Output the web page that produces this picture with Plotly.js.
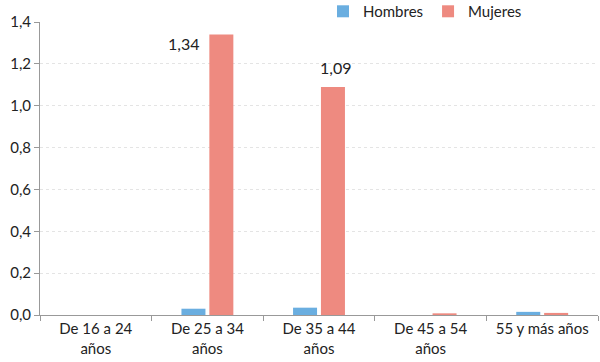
<!DOCTYPE html>
<html><head><meta charset="utf-8">
<script src="https://cdn.plot.ly/plotly-3.0.1.min.js"></script>
<style>body{margin:0;background:#fff}#c{width:600px;height:362px}</style>
</head><body><div id="c"></div>
<script>
const categories = ["De 16 a 24<br>años", "De 25 a 34<br>años", "De 35 a 44<br>años", "De 45 a 54<br>años", "55 y más años"];
const hombres = [0, 0.03, 0.035, 0, 0.015];
const mujeres = [0, 1.34, 1.09, 0.008, 0.01];
const labelsShown = [{idx: 1, text: "1,34", side: "left"}, {idx: 2, text: "1,09", side: "top"}];

const font = "Lato, 'Open Sans', sans-serif";
const traces = [
  {type: "bar", name: "Hombres", x: categories, y: hombres, marker: {color: "#6aaee0"}},
  {type: "bar", name: "Mujeres", x: categories, y: mujeres, marker: {color: "#ee8a80"}}
];
const annotations = labelsShown.map(l => ({
  x: categories[l.idx], y: mujeres[l.idx], xref: "x", yref: "y",
  text: l.text, showarrow: false,
  xshift: l.side === "left" ? -6 : 16,
  yshift: l.side === "left" ? -20 : 8,
  xanchor: l.side === "left" ? "right" : "center",
  yanchor: "bottom",
  font: {family: font, size: 16, color: "#222"}
}));
const layout = {
  width: 600, height: 362,
  margin: {l: 40, r: 2, t: 22, b: 47, autoexpand: false},
  paper_bgcolor: "#fff", plot_bgcolor: "#fff",
  font: {family: font, size: 15, color: "#222"},
  separators: ",.",
  bargap: 0.5, bargroupgap: 0.14,
  showlegend: true,
  legend: {orientation: "h", x: 0.69, xanchor: "center", y: 1.092, yanchor: "top",
           font: {size: 15}, itemwidth: 14, traceorder: "normal", bgcolor: "rgba(0,0,0,0)"},
  xaxis: {type: "category", tickson: "boundaries", ticks: "outside", ticklen: 5, tickcolor: "#999",
          showline: true, linecolor: "#999", showgrid: false, tickfont: {size: 15}},
  yaxis: {range: [0, 1.4], dtick: 0.2, tickformat: ".1f", ticks: "outside", ticklen: 5, tickcolor: "#999",
          showline: true, linecolor: "#999", showgrid: true, gridcolor: "#e4e4e4", griddash: "dot",
          zeroline: false, tickfont: {size: 15}},
  annotations: annotations
};
Plotly.newPlot("c", traces, layout, {displayModeBar: false, staticPlot: true});
</script></body></html>
